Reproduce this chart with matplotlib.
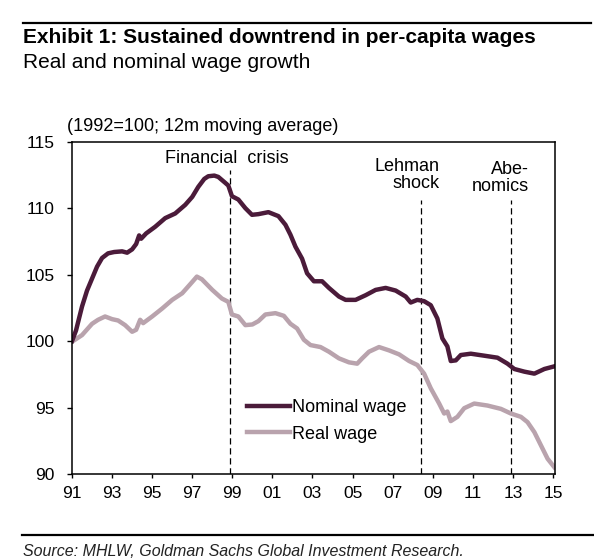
import matplotlib
matplotlib.use('Agg')
import matplotlib.pyplot as plt
from matplotlib.lines import Line2D

plt.rcParams['font.family'] = ['Liberation Sans', 'DejaVu Sans']

# nominal wage, 12m moving average (1992=100)
nom_year = [1991.0, 1991.2, 1991.5, 1991.75, 1992.0, 1992.25, 1992.5, 1992.8, 1993.1, 1993.5,
            1993.75, 1994.0, 1994.2, 1994.35, 1994.45, 1994.7, 1995.15, 1995.65, 1996.15, 1996.65,
            1997.0, 1997.3, 1997.6, 1997.8, 1998.1, 1998.3, 1998.65, 1998.8, 1998.98, 1999.3,
            1999.65, 1999.98, 2000.3, 2000.8, 2001.3, 2001.65, 2001.9, 2002.15, 2002.48, 2002.73,
            2003.07, 2003.48, 2003.82, 2004.32, 2004.65, 2005.15, 2005.65, 2006.15, 2006.65, 2007.15,
            2007.65, 2007.9, 2008.23, 2008.57, 2008.9, 2009.23, 2009.48, 2009.73, 2009.9, 2010.15,
            2010.4, 2010.9, 2011.57, 2012.23, 2012.73, 2013.07, 2013.57, 2014.07, 2014.57, 2015.07]
nom_wage = [100.0, 100.8, 102.6, 103.8, 104.7, 105.6, 106.25, 106.6, 106.7, 106.75,
            106.65, 106.9, 107.3, 107.95, 107.7, 108.1, 108.6, 109.25, 109.6, 110.25,
            110.85, 111.6, 112.2, 112.4, 112.45, 112.35, 111.9, 111.7, 110.9, 110.65,
            110.0, 109.5, 109.55, 109.7, 109.4, 108.75, 108.0, 107.1, 106.2, 105.1,
            104.5, 104.5, 104.0, 103.35, 103.1, 103.1, 103.45, 103.85, 104.0, 103.8,
            103.35, 102.9, 103.1, 103.0, 102.7, 101.7, 100.2, 99.6, 98.5, 98.55,
            98.95, 99.05, 98.9, 98.75, 98.3, 97.9, 97.7, 97.55, 97.9, 98.1]

# real wage
real_year = [1991.0, 1991.5, 1992.0, 1992.3, 1992.65, 1993.0, 1993.3, 1993.65, 1994.0, 1994.2,
             1994.4, 1994.55, 1995.0, 1995.5, 1996.0, 1996.5, 1997.0, 1997.23, 1997.48, 1998.0,
             1998.48, 1998.8, 1998.98, 1999.3, 1999.65, 2000.0, 2000.3, 2000.65, 2001.15, 2001.57,
             2001.9, 2002.23, 2002.57, 2002.9, 2003.4, 2003.82, 2004.32, 2004.82, 2005.23, 2005.48,
             2005.82, 2006.32, 2006.82, 2007.32, 2007.82, 2008.23, 2008.57, 2008.9, 2009.32, 2009.57,
             2009.73, 2009.9, 2010.23, 2010.57, 2011.07, 2011.73, 2012.4, 2012.9, 2013.4, 2013.73,
             2014.07, 2014.4, 2014.73, 2015.07]
real_wage = [99.95, 100.45, 101.3, 101.6, 101.85, 101.65, 101.55, 101.2, 100.7, 100.85,
             101.6, 101.35, 101.85, 102.45, 103.1, 103.6, 104.45, 104.85, 104.65, 103.85,
             103.2, 102.95, 102.0, 101.85, 101.2, 101.25, 101.5, 102.0, 102.1, 101.9,
             101.3, 100.95, 100.1, 99.7, 99.55, 99.2, 98.7, 98.4, 98.3, 98.7,
             99.2, 99.55, 99.3, 99.0, 98.5, 98.2, 97.55, 96.45, 95.3, 94.55,
             94.7, 93.98, 94.3, 94.95, 95.3, 95.15, 94.9, 94.55, 94.3, 93.9,
             93.15, 92.15, 91.15, 90.5]

tick_years = [1991, 1993, 1995, 1997, 1999, 2001, 2003, 2005, 2007, 2009, 2011, 2013, 2015]
tick_labels = ['91', '93', '95', '97', '99', '01', '03', '05', '07', '09', '11', '13', '15']

# event lines: (year, top of dashed line)
events = [(1998.87, 112.9), (2008.4, 110.65), (2012.9, 110.65)]

NOM_COL = '#4b1b3a'
REAL_COL = '#b9a3ad'

fig = plt.figure(figsize=(5.94, 5.58), dpi=100)
ax = fig.add_axes([72/594, 1-474/558, 483/594, 332.3/558])

for x, top in events:
    ax.plot([x, x], [90, top], color='black', lw=0.9, dashes=(5, 3))

ax.plot(real_year, real_wage, color=REAL_COL, lw=3.2, label='Real wage', solid_joinstyle='round')
ax.plot(nom_year, nom_wage, color=NOM_COL, lw=3.2, label='Nominal wage', solid_joinstyle='round')

ax.set_xlim(1991, 2015.1)
ax.set_ylim(90, 115)
ax.set_yticks([90, 95, 100, 105, 110, 115])
ax.set_xticks(tick_years)
ax.set_xticklabels(tick_labels)
ax.tick_params(axis='x', direction='out', length=3, width=1, pad=6, labelsize=12.5)
ax.tick_params(axis='y', direction='out', length=3.6, width=1, pad=9, labelsize=12.5)
for sp in ax.spines.values():
    sp.set_linewidth(1.1)

ax.text(1998.71, 113.75, 'Financial  crisis', ha='center', va='center', fontsize=13)
ax.text(2009.36, 112.5, 'Lehman\nshock', ha='right', va='center', fontsize=13,
        multialignment='right', linespacing=1.05)
ax.text(2013.8, 112.27, 'Abe-\nnomics', ha='right', va='center', fontsize=13,
        multialignment='right', linespacing=1.05)

h, l = ax.get_legend_handles_labels()
ax.legend(h[::-1], l[::-1], loc='center left', bbox_to_anchor=(0.3617, 0.16), frameon=False,
          fontsize=13, handlelength=2.4, handletextpad=0.1, labelspacing=0.55,
          borderpad=0, borderaxespad=0)

fig.text(67/594, 1-131/558, '(1992=100; 12m moving average)', fontsize=13, va='baseline')
fig.text(23/594, 1-43.3/558, 'Exhibit 1: Sustained downtrend in per-capita wages',
         fontsize=15, fontweight='bold', va='baseline')
fig.text(23/594, 1-68.3/558, 'Real and nominal wage growth', fontsize=15, va='baseline')
fig.text(23/594, 1-556/558, 'Source: MHLW, Goldman Sachs Global Investment Research.',
         fontsize=11.5, style='italic', va='baseline', color='#222222')

fig.add_artist(Line2D([22.7/594, 591/594], [1-23.3/558, 1-23.3/558], color='black', lw=1.6))
fig.add_artist(Line2D([22/594, 1.0], [1-535/558, 1-535/558], color='black', lw=1.6))

fig.savefig('out.png', dpi=100)
